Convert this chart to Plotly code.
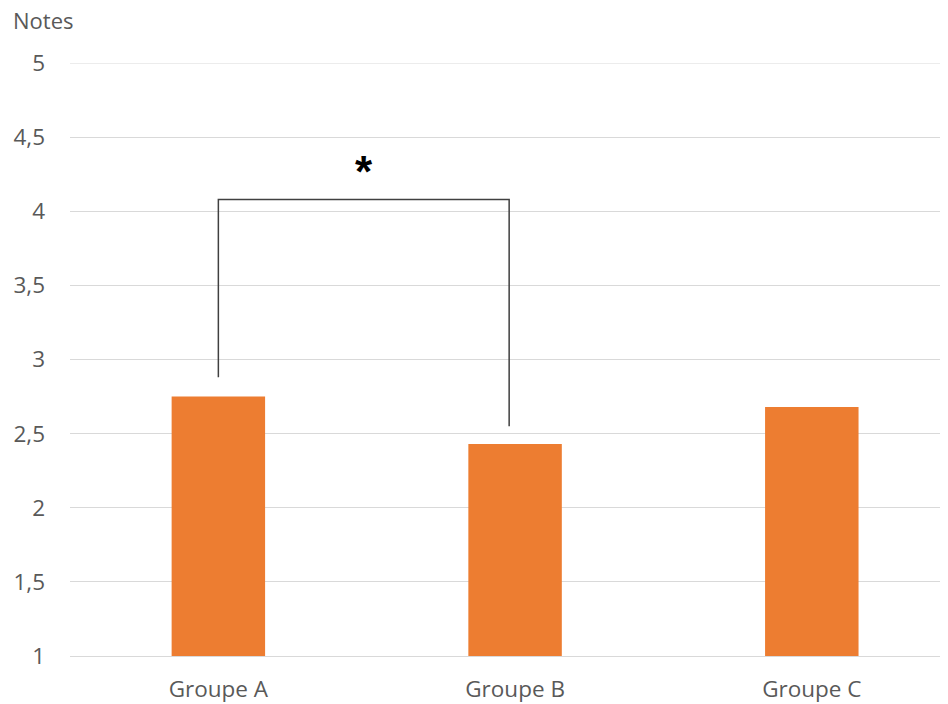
import plotly.graph_objects as go

categories = ["Groupe A", "Groupe B", "Groupe C"]
notes = [2.75, 2.43, 2.68]
y_ticks = [1, 1.5, 2, 2.5, 3, 3.5, 4, 4.5, 5]

# significance bracket between Groupe A and Groupe B
bracket_x = [0, 0, 0.98, 0.98]
bracket_y = [2.88, 4.08, 4.08, 2.55]
star_x = 0.49
star_y = 4.27

x_pos = list(range(len(categories)))

fig = go.Figure()
fig.add_trace(go.Bar(
    x=x_pos, y=[v - 1 for v in notes], base=1, width=0.315,
    marker=dict(color="#ED7D31", line=dict(width=0)),
    hoverinfo="skip", showlegend=False,
))
fig.add_trace(go.Scatter(
    x=bracket_x, y=bracket_y, mode="lines",
    line=dict(color="#404040", width=1.5),
    hoverinfo="skip", showlegend=False,
))
fig.add_annotation(
    x=star_x, y=star_y, xref="x", yref="y", text="<b>*</b>",
    showarrow=False, font=dict(size=44, color="#000000", family="Liberation Sans"),
    yanchor="middle",
)
fig.add_annotation(
    x=-0.066, y=1.072, xref="paper", yref="paper", text="Notes",
    showarrow=False, xanchor="left", yanchor="middle", borderpad=0,
    font=dict(size=22, color="#595959", family="Open Sans"),
)
# top gridline at 5 (Plotly omits grid lines on the range edge)
fig.add_shape(
    type="line", xref="paper", yref="y", x0=0, x1=1, y0=5, y1=5,
    line=dict(color="#D9D9D9", width=1), layer="below",
)

fig.update_layout(
    width=940, height=696,
    margin=dict(l=62, r=0, t=55, b=48),
    paper_bgcolor="white", plot_bgcolor="white",
    separators=", ",
    font=dict(family="Open Sans", color="#595959", size=22.5),
    xaxis=dict(
        range=[-0.5, 2.459], tickvals=x_pos, ticktext=categories,
        showgrid=False, zeroline=False, showline=True, linecolor="#D9D9D9",
        linewidth=1, ticks="", ticklabelstandoff=13,
        tickfont=dict(size=22.5, color="#595959"),
    ),
    yaxis=dict(
        range=[1, 5], tickvals=y_ticks, showgrid=True, gridcolor="#D9D9D9",
        gridwidth=1, zeroline=False, showline=False, ticks="",
        ticklabelstandoff=24, tickfont=dict(size=22.5, color="#595959"),
    ),
)

fig.write_html("out.html")
